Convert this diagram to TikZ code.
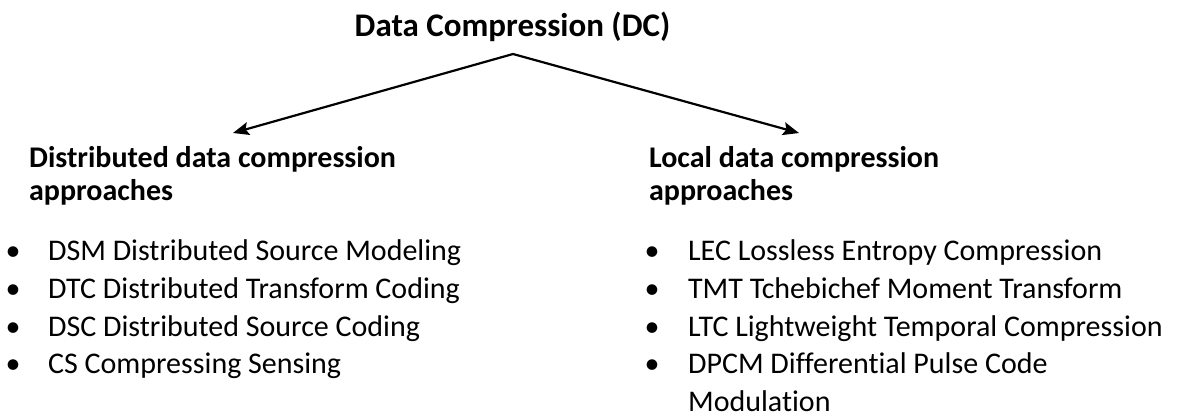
\documentclass[tikz,border=0pt]{standalone}
\usepackage{fontspec}
\setmainfont{Carlito}[Ligatures={NoCommon}]
\usetikzlibrary{arrows.meta,positioning}

\begin{document}
\begin{tikzpicture}[x=1pt,y=-1pt,>={Stealth[length=16pt,width=13pt,inset=3pt]},line width=2.2pt,
    title/.style={anchor=base,inner sep=0pt,font=\fontsize{33}{36}\selectfont\bfseries},
    head/.style={anchor=base west,align=left,inner sep=0pt,font=\fontsize{30}{33}\selectfont\bfseries},
    item/.style={anchor=base west,align=left,inner sep=0pt,font=\fontsize{30}{37.5}\selectfont},
    dot/.style={anchor=base,inner sep=0pt,font=\fontsize{30}{37.5}\selectfont}]

    \useasboundingbox (0,0) rectangle (1185,419);

    % Title
    \node [title] (dc) at (512.5,37) {Data Compression (DC)};

    % Arrows down to the two families
    \coordinate (apex) at (513,54);
    \coordinate (ltip) at (233,133);
    \coordinate (rtip) at (799,133);
    \draw [->] (apex) -- (ltip);
    \draw [->] (apex) -- (rtip);

    % Headings (base anchor sits on the last line)
    \node [head] (dist) at (28,201) {Distributed data compression\\approaches};
    \node [head] (local) at (648,201) {Local data compression\\approaches};

    % Distributed approaches
    \foreach \txt [count=\i] in {DSM Distributed Source Modeling,DTC Distributed Transform Coding,DSC Distributed Source Coding,CS Compressing Sensing} {
        \node [dot] (db\i) at (13,{261+37.5*(\i-1)}) {\textbullet};
        \node [item] (di\i) at (47,{261+37.5*(\i-1)}) {\txt};
    }

    % Local approaches
    \foreach \txt [count=\i] in {LEC Lossless Entropy Compression,TMT Tchebichef Moment Transform,LTC Lightweight Temporal Compression} {
        \node [dot] (lb\i) at (652,{261+37.5*(\i-1)}) {\textbullet};
        \node [item] (li\i) at (687,{261+37.5*(\i-1)}) {\txt};
    }
    \node [dot] (lb4) at (652,373.5) {\textbullet};
    \node [item] (li4) at (687,411) {DPCM Differential Pulse Code\\Modulation};

\end{tikzpicture}
\end{document}
